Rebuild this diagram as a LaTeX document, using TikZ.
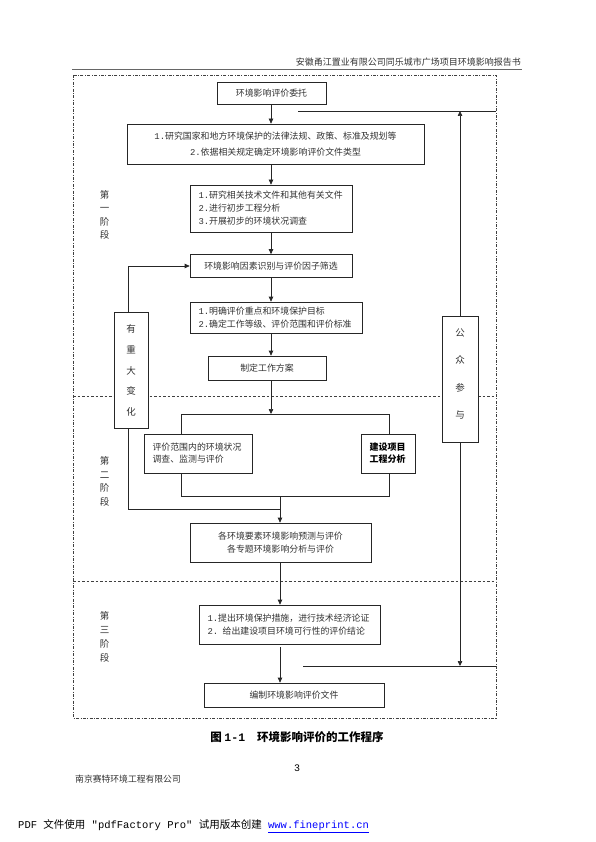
\documentclass[tikz,border=0pt]{standalone}
\usepackage{fontspec}
\setmainfont{Noto Sans CJK SC}
\newfontfamily\mono{Liberation Mono}
\usetikzlibrary{arrows.meta}
\newcommand\nm[1]{{\mono #1}}
\begin{document}
\begin{tikzpicture}[x=1pt,y=-1pt,
  box/.style={draw=black!85, line width=0.7pt, fill=white, inner sep=0pt,
    font=\fontsize{8.9}{13}\selectfont, text=black!80},
  cbox/.style={box, align=center},
  lbox/.style={box, align=left, inner xsep=8.5pt},
  vtext/.style={inner sep=0pt, align=center, text=black!80},
  arr/.style={line width=0.7pt, draw=black!85, -{Triangle[length=5pt,width=4.5pt]}},
  ln/.style={line width=0.7pt, draw=black!85},
  frame/.style={line width=0.6pt, draw=black!75, dash pattern=on 3pt off 1.5pt on 0.8pt off 1.5pt},
  stageline/.style={line width=0.6pt, draw=black!75, dash pattern=on 2.5pt off 2pt},
]
\useasboundingbox (0,0) rectangle (595,842);
\fill[white] (0,0) rectangle (595,842);

% header
\node[anchor=east, inner sep=0pt, font=\fontsize{9}{10}\selectfont, text=black!80] (hdr) at (521,62) {安徽甬江置业有限公司同乐城市广场项目环境影响报告书};
\draw[line width=0.8pt, black!60] (72,69) -- (522,69);

% frame and stage separators
\draw[frame] (73,75) rectangle (496,718);
\draw[stageline] (73,396) -- (496,396);
\draw[stageline] (73,581) -- (496,581);

% stage labels
\node[vtext, font=\fontsize{9.5}{13.5}\selectfont] (s1) at (104.5,215) {第\\一\\阶\\段};
\node[vtext, font=\fontsize{9.5}{13.7}\selectfont] (s2) at (104.5,481.5) {第\\二\\阶\\段};
\node[vtext, font=\fontsize{9.5}{13.9}\selectfont] (s3) at (104.5,637) {第\\三\\阶\\段};

% boxes
\node[cbox, minimum width=109, minimum height=22] (A) at (271.5,93) {环境影响评价委托};
\node[cbox, minimum width=297, minimum height=40, font=\fontsize{8.9}{15.5}\selectfont] (B) at (275.5,144)
  {\nm{1.}研究国家和地方环境保护的法律法规、政策、标准及规划等\\\nm{2.}依据相关规定确定环境影响评价文件类型};
\node[lbox, text width=145, minimum height=47] (C) at (271,208.5)
  {\nm{1.}研究相关技术文件和其他有关文件\\\nm{2.}进行初步工程分析\\\nm{3.}开展初步的环境状况调查};
\node[cbox, minimum width=162, minimum height=23] (D) at (271,266) {环境影响因素识别与评价因子筛选};
\node[lbox, text width=155, minimum height=31, font=\fontsize{8.9}{12.5}\selectfont] (E) at (276,317.5)
  {\nm{1.}明确评价重点和环境保护目标\\\nm{2.}确定工作等级、评价范围和评价标准};
\node[cbox, minimum width=118, minimum height=24] (F) at (267,368) {制定工作方案};
\node[lbox, text width=91, inner xsep=8.5pt, minimum height=39, font=\fontsize{8.9}{12}\selectfont] (G) at (198,453.5)
  {评价范围内的环境状况\\调查、监测与评价};
\node[lbox, text width=37, minimum height=39, font=\fontsize{9}{12}\selectfont\bfseries, text=black] (H) at (388,453.5)
  {建设项目\\工程分析};
\node[cbox, minimum width=181, minimum height=39, font=\fontsize{8.9}{12.5}\selectfont] (I) at (280.5,542.5)
  {各环境要素环境影响预测与评价\\各专题环境影响分析与评价};
\node[lbox, text width=164, minimum height=39, font=\fontsize{8.9}{13}\selectfont] (J) at (289.5,624.5)
  {\nm{1.}提出环境保护措施，进行技术经济论证\\\nm{2.} 给出建设项目环境可行性的评价结论};
\node[cbox, minimum width=180, minimum height=24] (K) at (294,695) {编制环境影响评价文件};
\node[box, minimum width=34, minimum height=116] (V) at (131,370) {};
\node[vtext, font=\fontsize{9.5}{20.7}\selectfont] (Vt) at (131,370.5) {有\\重\\大\\变\\化};
\node[box, minimum width=36, minimum height=126] (P) at (460,379) {};
\node[vtext, font=\fontsize{9.5}{27.3}\selectfont] (Pt) at (460,374) {公\\众\\参\\与};

% named coordinates
\coordinate (col) at (271,0);
\coordinate (col2) at (280,0);
\coordinate (vx) at (128,0);
\coordinate (btl) at (181,414);
\coordinate (btr) at (389,414);
\coordinate (bbl) at (181,496);
\coordinate (bbr) at (389,496);
\coordinate (loop) at (128,509);
\coordinate (tl) at (298,111);
\coordinate (tr) at (496,111);
\coordinate (bl) at (303,666);
\coordinate (br) at (496,666);
\coordinate (j0) at (280,647);

% connectors
\draw[arr] (col |- A.south) -- (col |- B.north);
\draw[arr] (col |- B.south) -- (col |- C.north);
\draw[arr] (col |- C.south) -- (col |- D.north);
\draw[arr] (col |- D.south) -- (col |- E.north);
\draw[arr] (col |- E.south) -- (col |- F.north);
\draw[arr] (col |- F.south) -- (col |- btl);
\draw[ln] (btl |- G.north) -- (btl) -- (btr) -- (btr |- H.north);
\draw[ln] (btl |- G.south) -- (bbl) -- (bbr) -- (btr |- H.south);
\draw[arr] (col2 |- bbl) -- (col2 |- I.north);
\draw[ln] (vx |- V.south) -- (loop) -- (col2 |- loop);
\draw[arr] (vx |- V.north) -- (vx |- D.west) -- (D.west);
\draw[arr] (col2 |- I.south) -- (col2 |- J.north);
\draw[arr] (j0) -- (col2 |- K.north);
\draw[ln] (tl) -- (tr);
\draw[arr] (P.north) -- (P.north |- tl);
\draw[ln] (bl) -- (br);
\draw[arr] (P.south) -- (P.south |- bl);

% caption and footer
\node[inner sep=0pt, font=\fontsize{11.5}{13}\selectfont\bfseries] (cap) at (297,737) {图 \nm{1-1}\hspace{12pt}环境影响评价的工作程序};
\node[inner sep=0pt, font=\mono\fontsize{10}{12}\selectfont] (pg) at (297,768) {3};
\node[anchor=west, inner sep=0pt, font=\fontsize{8.8}{10}\selectfont, text=black!80] (co) at (75,779) {南京赛特环境工程有限公司};
\node[anchor=west, inner sep=0pt, font=\fontsize{10.5}{12}\selectfont] (pdf) at (18,826)
  {\nm{PDF }文件使用\nm{ "pdfFactory Pro" }试用版本创建\nm{ }{\mono\color{blue}\underline{www.fineprint.cn}}};
\end{tikzpicture}
\end{document}
